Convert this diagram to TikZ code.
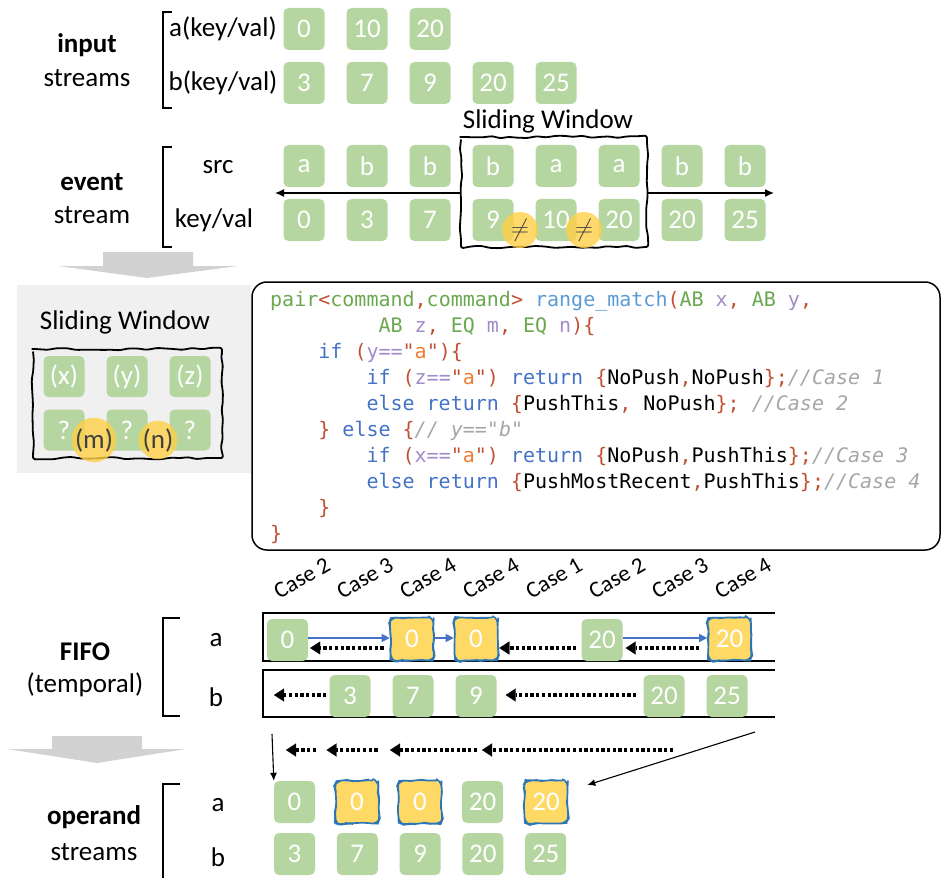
\documentclass[tikz,border=0pt]{standalone}
\usepackage{fontspec}
\setmainfont{Carlito}
\newfontfamily\codefont{DejaVu Sans Mono}
\usetikzlibrary{arrows.meta,decorations.pathmorphing}

\definecolor{boxgreen}{RGB}{181,214,161}
\definecolor{boxyellow}{RGB}{255,217,102}
\definecolor{sketchblue}{RGB}{46,117,182}
\definecolor{hilite}{RGB}{255,208,70}
\definecolor{flowblue}{RGB}{68,114,196}
\definecolor{bigarrow}{RGB}{210,210,210}
\definecolor{panelgray}{RGB}{240,240,240}
\definecolor{markgray}{RGB}{64,64,64}
% code colours
\definecolor{cdgreen}{RGB}{106,168,79}
\definecolor{cdlblue}{RGB}{91,155,213}
\definecolor{cdred}{RGB}{192,80,50}
\definecolor{cdpurple}{RGB}{160,140,200}
\definecolor{cdblue}{RGB}{68,114,196}
\definecolor{cdorange}{RGB}{237,125,49}
\definecolor{cdgray}{RGB}{166,166,166}

\newcommand\cgr[1]{\textcolor{cdgreen}{#1}}
\newcommand\cbl[1]{\textcolor{cdlblue}{#1}}
\newcommand\crd[1]{\textcolor{cdred}{#1}}
\newcommand\cpu[1]{\textcolor{cdpurple}{#1}}
\newcommand\ckw[1]{\textcolor{cdblue}{#1}}
\newcommand\cor[1]{\textcolor{cdorange}{#1}}
\newcommand\ccm[1]{\textcolor{cdgray}{\itshape #1}}

\begin{document}
\begin{tikzpicture}[x=1pt,y=-1pt,
  lbl/.style={font=\fontsize{27}{30}\selectfont, inner sep=0pt},
  blbl/.style={font=\fontsize{27}{30}\selectfont\bfseries, inner sep=0pt},
  caselbl/.style={font=\fontsize{23}{25}\selectfont, inner sep=0pt, rotate=30},
  gbox/.style={rectangle, rounded corners=5pt, fill=boxgreen, minimum width=41pt,
    minimum height=42pt, inner sep=0pt, text=white, font=\fontsize{27}{30}\selectfont},
  ybox/.style={gbox, fill=boxyellow, draw=sketchblue, line width=1.6pt,
    minimum width=43pt, minimum height=43pt, rounded corners=6pt,
    decorate, decoration={random steps, segment length=5pt, amplitude=0.8pt}},
  sketch/.style={draw=black, line width=1.8pt, rounded corners=2.5pt,
    decorate, decoration={random steps, segment length=9pt, amplitude=1.3pt}},
  hcirc/.style={circle, minimum size=36pt, inner sep=0pt, fill=hilite, fill opacity=0.8,
    text opacity=1, text=markgray},
  brk/.style={line width=1.8pt},
  frame/.style={line width=2pt},
  arr/.style={line width=1.4pt, -{Latex[length=9pt,width=8pt]}},
  thinarr/.style={line width=1.1pt, -{Latex[length=8pt,width=7pt]}},
  bluearr/.style={draw=flowblue, line width=1.2pt, -{Triangle[length=8pt,width=8pt]}},
  dotarr/.style={line width=4pt, dash pattern=on 3.3pt off 2.4pt,
    -{Triangle[length=10pt,width=13pt,line width=0.1pt]}},
  codeline/.style={anchor=base west, inner sep=0pt, font=\codefont\fontsize{20}{26}\selectfont}
]
\pgfmathsetseed{4711}
\useasboundingbox (0,0) rectangle (941,877);

% ---------------- input streams ----------------
\node[blbl] (tin) at (87,45) {input};
\node[lbl] (tins) at (87,78) {streams};
\draw[brk] (172,12) -- (163,12) -- (163,108) -- (172,108);
\node[lbl] (la) at (223,29) {a(key/val)};
\node[lbl] (lb) at (223,83) {b(key/val)};
\foreach \v [count=\i] in {0,10,20}
  \node[gbox] (ia\i) at ({304+63*(\i-1)},29) {\v};
\foreach \v [count=\i] in {3,7,9,20,25}
  \node[gbox] (ib\i) at ({304+63*(\i-1)},83) {\v};

% ---------------- event stream ----------------
\node[blbl] (tev) at (92,182) {event};
\node[lbl] (tevs) at (92,215) {stream};
\draw[brk] (172,147) -- (163,147) -- (163,247) -- (172,247);
\node[lbl] (lsrc) at (218,167) {src};
\node[lbl] (lkey) at (214,220) {key/val};
\foreach \s [count=\i] in {a,b,b,b,a,a,b,b}
  \node[gbox] (es\i) at ({304+63*(\i-1)},166) {\s};
\foreach \v [count=\i] in {0,3,7,9,10,20,20,25}
  \node[gbox] (ek\i) at ({304+63*(\i-1)},220) {\v};

\node[lbl] (tsw) at (548,121) {Sliding Window};
\coordinate (winnw) at (461,137);
\coordinate (winse) at (647,247);
\coordinate (winw) at (461,193);
\coordinate (wine) at (647,193);
\draw[sketch] (winnw) rectangle (winse);
\coordinate (evl) at (275,193);
\coordinate (evr) at (774,193);
\draw[arr] (winw) -- (evl);
\draw[arr] (wine) -- (evr);

\node[hcirc, font=\fontsize{26}{26}\selectfont] (ne1) at (520,230) {$\neq$};
\node[hcirc, font=\fontsize{26}{26}\selectfont] (ne2) at (584,230) {$\neq$};

% big grey arrow
\fill[bigarrow] (103,252) -- (193,252) -- (193,266) -- (238,266) -- (147,278)
  -- (58,266) -- (103,266) -- cycle;

% ---------------- sliding window panel ----------------
\fill[panelgray] (17,285) rectangle (251,473);
\node[lbl] (psw) at (125,322) {Sliding Window};
\coordinate (pwinnw) at (33,349);
\coordinate (pwinse) at (222,458);
\draw[sketch] (pwinnw) rectangle (pwinse);
\foreach \s [count=\i] in {(x),(y),(z)}
  \node[gbox, minimum height=41pt] (pr\i) at ({64+63*(\i-1)},376.5) {\s};
\foreach \i in {1,2,3}
  \node[gbox, minimum height=41pt] (pq\i) at ({64+63*(\i-1)},430) {?};
\node[hcirc, font=\fontsize{27}{30}\selectfont] (pm) at (94,440) {(m)};
\node[hcirc, font=\fontsize{27}{30}\selectfont] (pn) at (158,440) {(n)};

% ---------------- code ----------------
\draw[line width=1.5pt, rounded corners=15pt] (252,282) rectangle (940,550);
\node[codeline] (c1) at (270,306.5) {\cgr{pair}\crd{<}\cgr{command}\crd{,}\cgr{command}\crd{>} \cbl{range\_match}\crd{(}\cgr{AB} \cpu{x}\crd{,} \cgr{AB} \cpu{y}\crd{,}};
\node[codeline] (c2) at (378.4,332.5) {\cgr{AB} \cpu{z}\crd{,} \cgr{EQ} \cpu{m}\crd{,} \cgr{EQ} \cpu{n}\crd{)\{}};
\node[codeline] (c3) at (318.2,358.5) {\ckw{if} \crd{(}\cpu{y==}\crd{"}\cor{a}\crd{")\{}};
\node[codeline] (c4) at (366.3,384.5) {\ckw{if} \crd{(}\cpu{z==}\crd{"}\cor{a}\crd{")} \ckw{return} \crd{\{}NoPush\crd{,}NoPush\crd{\};}\ccm{//Case 1}};
\node[codeline] (c5) at (366.3,410.5) {\ckw{else return} \crd{\{}PushThis\crd{,} NoPush\crd{\};} \ccm{//Case 2}};
\node[codeline] (c6) at (318.2,436.5) {\crd{\}} \ckw{else} \crd{\{}\ccm{// y=="b"}};
\node[codeline] (c7) at (366.3,462.5) {\ckw{if} \crd{(}\cpu{x==}\crd{"}\cor{a}\crd{")} \ckw{return} \crd{\{}NoPush\crd{,}PushThis\crd{\};}\ccm{//Case 3}};
\node[codeline] (c8) at (366.3,488.5) {\ckw{else return} \crd{\{}PushMostRecent\crd{,}PushThis\crd{\};}\ccm{//Case 4}};
\node[codeline] (c9) at (318.2,514.5) {\crd{\}}};
\node[codeline] (c10) at (270,540.5) {\crd{\}}};

% ---------------- case labels ----------------
\foreach \c [count=\i] in {2,3,4,4,1,2,3,4}
  \node[caselbl] (case\i) at ({302+63*(\i-1)},578) {Case \c};

% ---------------- FIFO ----------------
\node[blbl] (tfifo) at (85,652) {FIFO};
\node[lbl] (ttemp) at (85,685) {(temporal)};
\draw[brk] (180,618) -- (163,618) -- (163,716) -- (180,716);
\node[lbl] (lfa) at (216,640) {a};
\node[lbl] (lfb) at (216,697) {b};
\draw[frame] (775,613) -- (263,613) -- (263,661) -- (775,661);
\draw[frame] (775,670) -- (263,670) -- (263,717) -- (775,717);

\node[gbox] (fa1) at (287.5,640) {0};
\node[ybox] (fa2) at (412,639) {0};
\node[ybox] (fa3) at (476,639) {0};
\node[gbox] (fa4) at (602,640) {20};
\node[ybox] (fa5) at (729.5,639) {20};
\node[gbox] (fb1) at (350,696) {3};
\node[gbox] (fb2) at (413,696) {7};
\node[gbox] (fb3) at (476,696) {9};
\node[gbox] (fb4) at (664,696) {20};
\node[gbox] (fb5) at (727,696) {25};

\draw[bluearr] (fa1.east |- 0,638) -- (fa2.west |- 0,638);
\draw[bluearr] (fa2.east |- 0,638) -- (fa3.west |- 0,638);
\draw[bluearr] (fa4.east |- 0,638) -- (fa5.west |- 0,638);

\draw[dotarr] ([xshift=-6pt]fa2.west |- 0,648) -- ([xshift=2pt]fa1.east |- 0,648);
\draw[dotarr] ([xshift=-5pt]fa4.west |- 0,648) -- ([xshift=1pt]fa3.east |- 0,648);
\draw[dotarr] ([xshift=-8pt]fa5.west |- 0,648) -- ([xshift=3pt]fa4.east |- 0,648);
\coordinate (fbl) at (274,695);
\draw[dotarr] ([xshift=-3pt]fb1.west |- 0,695) -- (fbl);
\draw[dotarr] ([xshift=-7pt]fb4.west |- 0,695) -- ([xshift=9pt]fb3.east |- 0,695);

% big grey arrow
\fill[bigarrow] (52,736) -- (142,736) -- (142,749) -- (186,749) -- (97,763)
  -- (7,749) -- (52,749) -- cycle;

% merged pointers
\coordinate (m0) at (316,750);
\coordinate (m1) at (286,750);
\coordinate (m2) at (377.5,750);
\coordinate (m3) at (326.5,750);
\coordinate (m4) at (477,750);
\coordinate (m5) at (390,750);
\coordinate (m6) at (673,750);
\coordinate (m7) at (482,750);
\draw[dotarr] (m0) -- (m1);
\draw[dotarr] (m2) -- (m3);
\draw[dotarr] (m4) -- (m5);
\draw[dotarr] (m6) -- (m7);

% ---------------- operand streams ----------------
\node[blbl] (top) at (94,817) {operand};
\node[lbl] (tops) at (94,852) {streams};
\draw[brk] (180,784) -- (163,784) -- (163,880);
\node[lbl] (loa) at (218,805) {a};
\node[lbl] (lob) at (218,857) {b};

\node[gbox] (oa1) at (294.5,802) {0};
\node[ybox] (oa2) at (357,802) {0};
\node[ybox] (oa3) at (420,802) {0};
\node[gbox] (oa4) at (482.5,802) {20};
\node[ybox] (oa5) at (546,802) {20};
\foreach \v [count=\i] in {3,7,9,20,25}
  \node[gbox] (ob\i) at ({294.5+62.8*(\i-1)},854) {\v};

\coordinate (vtop) at (272,734);
\draw[thinarr] (vtop) -- (oa1.north west);
\coordinate (dtop) at (755,732);
\draw[thinarr] (dtop) -- ([xshift=19pt,yshift=17pt]oa5.east);
\end{tikzpicture}
\end{document}
